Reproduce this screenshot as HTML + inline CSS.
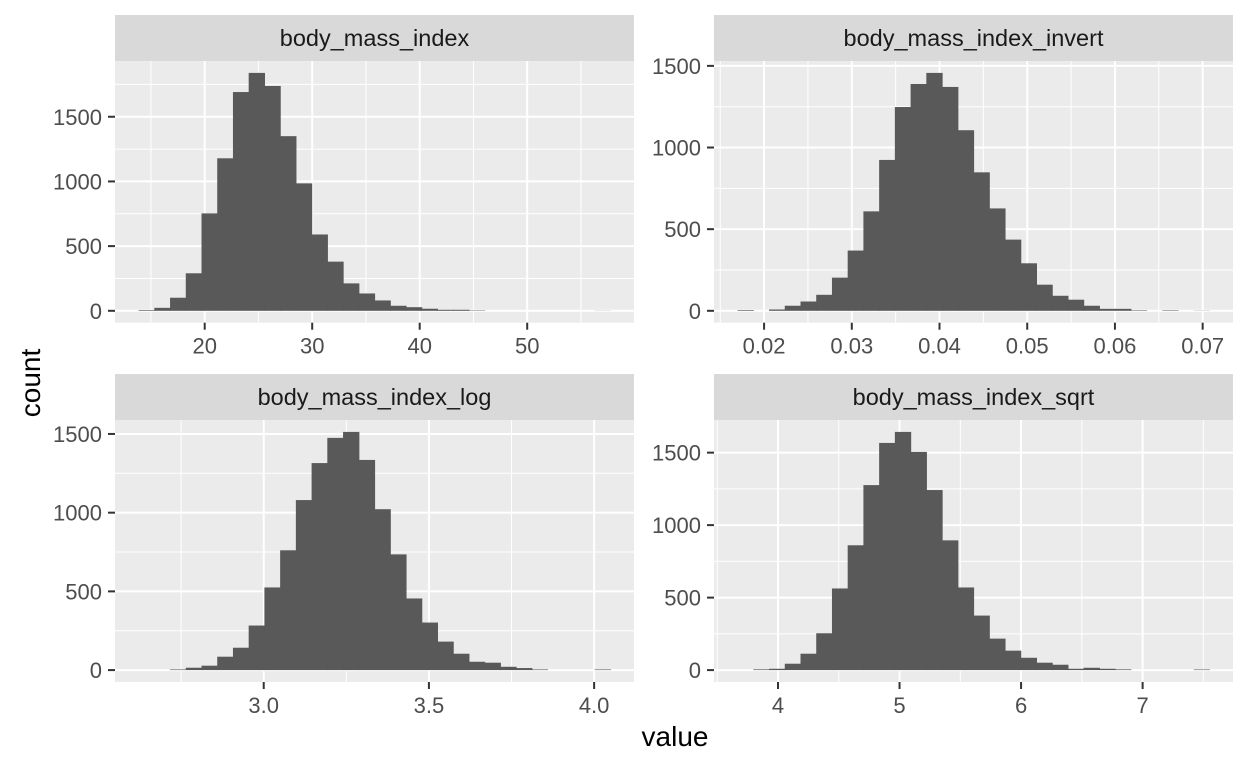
<!DOCTYPE html>
<html><head><meta charset="utf-8"><style>
html,body{margin:0;padding:0;background:#fff;}
svg{display:block;font-family:"Liberation Sans",Arial,sans-serif;}
</style></head><body>
<svg id="chart" width="1248" height="768" viewBox="0 0 1248 768" xmlns="http://www.w3.org/2000/svg">
<rect x="0" y="0" width="1248" height="768" fill="#fff"/>
<text x="675" y="746" font-size="28" text-anchor="middle" fill="#000">value</text>
<text transform="translate(40,383) rotate(-90)" font-size="28" text-anchor="middle" fill="#000">count</text>
</svg>
<script>
// ---- data ----
const panelTitles = ["body_mass_index","body_mass_index_invert","body_mass_index_log","body_mass_index_sqrt"];
const binStarts = [13.85, 0.01698, 2.6213, 3.6676];
const binWidths = [1.463, 0.001793, 0.0476, 0.1294];
const countsBmi = [5,23,101,290,753,1179,1691,1839,1738,1350,985,590,380,212,134,80,39,28,16,8,8,3,0,0,0,0,0,0,0,1];
const countsInvert = [4,0,8,31,57,98,203,369,609,924,1248,1389,1457,1371,1106,848,627,436,291,160,92,68,31,12,12,3,0,3,0,1];
const countsLog = [0,0,4,15,28,85,142,283,525,761,1080,1315,1475,1513,1335,1022,735,455,302,181,104,53,47,21,13,4,0,0,0,4];
const countsSqrt = [0,5,9,44,113,254,563,861,1276,1567,1643,1505,1242,895,570,376,217,134,85,51,37,9,16,9,5,0,0,0,0,4];
const xTicksBmi = [20,30,40,50];
const xTicksInvert = [0.02,0.03,0.04,0.05,0.06,0.07];
const xTicksLog = [3.0,3.5,4.0];
const xTicksSqrt = [4,5,6,7];
const xTickLabelsBmi = ["20","30","40","50"];
const xTickLabelsInvert = ["0.02","0.03","0.04","0.05","0.06","0.07"];
const xTickLabelsLog = ["3.0","3.5","4.0"];
const xTickLabelsSqrt = ["4","5","6","7"];
const xMinorBmi = [15,25,35,45,55];
const xMinorInvert = [0.015,0.025,0.035,0.045,0.055,0.065];
const xMinorLog = [2.75,3.25,3.75];
const xMinorSqrt = [3.5,4.5,5.5,6.5,7.5];
const yTicks = [0,500,1000,1500];
const yMinor = [250,750,1250,1750];

const NS="http://www.w3.org/2000/svg";
const svg=document.getElementById('chart');
function mk(tag,attrs,parent){const e=document.createElementNS(NS,tag);for(const k in attrs)e.setAttribute(k,attrs[k]);(parent||svg).appendChild(e);return e;}

const counts=[countsBmi,countsInvert,countsLog,countsSqrt];
const xTicks=[xTicksBmi,xTicksInvert,xTicksLog,xTicksSqrt];
const xLabels=[xTickLabelsBmi,xTickLabelsInvert,xTickLabelsLog,xTickLabelsSqrt];
const xMinor=[xMinorBmi,xMinorInvert,xMinorLog,xMinorSqrt];
const lefts=[115,714,115,714], widthP=519;
const stripTops=[15,15,374,374], stripH=46, plotH=[261.7,261.7,262,262];

for(let p=0;p<4;p++){
  const L=lefts[p], R=L+widthP, st=stripTops[p], T=st+stripH, B=T+plotH[p];
  const c=counts[p], n=c.length;
  const x0=binStarts[p], x1=binStarts[p]+binWidths[p]*n, xr=x1-x0;
  const dx0=x0-0.05*xr, dx1=x1+0.05*xr;
  const M=Math.max(...c), dy0=-0.05*M, dy1=1.05*M;
  const sx=v=>L+(v-dx0)/(dx1-dx0)*(R-L);
  const sy=v=>B-(v-dy0)/(dy1-dy0)*(B-T);
  const g=mk('g',{});
  
  
  const strip=mk('rect',{x:L,y:st,width:widthP,height:stripH,fill:'#d9d9d9'},g);
  
  
  const stx=mk('text',{x:(L+R)/2,y:st+31,'font-size':23.5,'text-anchor':'middle',fill:'#1a1a1a'},g);
  stx.textContent=panelTitles[p];
  
  
  const bg=mk('rect',{x:L,y:T,width:widthP,height:B-T,fill:'#ebebeb'},g);
  
  
  xMinor[p].forEach(v=>{const x=sx(v);if(x>L&&x<R){const l=mk('line',{x1:x,x2:x,y1:T,y2:B,stroke:'#fff','stroke-width':1},g);}});
  yMinor.forEach(v=>{const y=sy(v);if(y>T&&y<B){const l=mk('line',{x1:L,x2:R,y1:y,y2:y,stroke:'#fff','stroke-width':1},g);}});
  xTicks[p].forEach((v,i)=>{const x=sx(v);
    const l=mk('line',{x1:x,x2:x,y1:T,y2:B,stroke:'#fff','stroke-width':2},g);
    const tk=mk('line',{x1:x,x2:x,y1:B,y2:B+7,stroke:'#333','stroke-width':2},g);
    const t=mk('text',{x:x,y:B+31,'font-size':22,'text-anchor':'middle',fill:'#4d4d4d'},g);t.textContent=xLabels[p][i];});
  yTicks.forEach(v=>{const y=sy(v);if(y<T-0.5)return;
    const l=mk('line',{x1:L,x2:R,y1:y,y2:y,stroke:'#fff','stroke-width':2},g);
    const tk=mk('line',{x1:L-7,x2:L,y1:y,y2:y,stroke:'#333','stroke-width':2},g);
    const t=mk('text',{x:L-13,y:y+8,'font-size':22,'text-anchor':'end',fill:'#4d4d4d'},g);t.textContent=String(v);});
  c.forEach((v,i)=>{if(v<=0)return;const a=sx(x0+i*binWidths[p]),b=sx(x0+(i+1)*binWidths[p]);
    const r=mk('rect',{x:a,y:sy(v),width:b-a+0.6,height:sy(0)-sy(v),fill:'#595959'},g);
    
    });
}
</script>
</body></html>
